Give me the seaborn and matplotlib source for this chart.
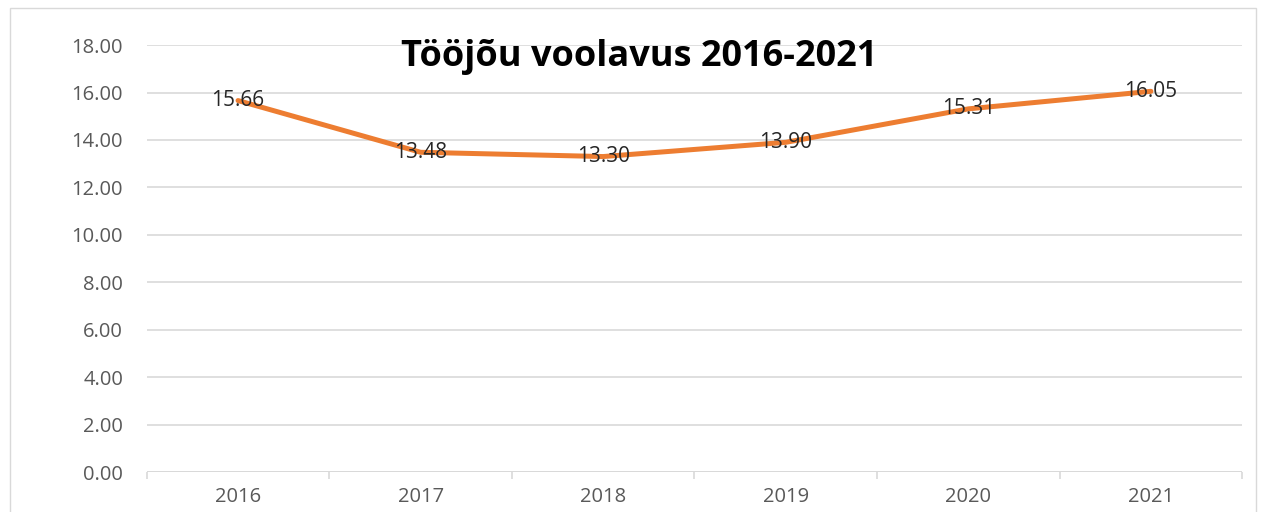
import matplotlib
matplotlib.use("Agg")
import matplotlib.pyplot as plt
import pandas as pd
import seaborn as sns
from matplotlib.patches import Rectangle

years = ["2016", "2017", "2018", "2019", "2020", "2021"]
turnover = [15.66, 13.48, 13.30, 13.90, 15.31, 16.05]
y_ticks = [0, 2, 4, 6, 8, 10, 12, 14, 16, 18]

sns.set_style("white")
plt.rcParams["font.family"] = ["Open Sans", "DejaVu Sans"]

df = pd.DataFrame({"year": years, "value": turnover})

fig = plt.figure(figsize=(12.65, 5.12), dpi=100)
ax = fig.add_axes([0.116, 0.078, 0.866, 0.834])

sns.lineplot(data=df, x="year", y="value", ax=ax, color="#ED7D31",
             linewidth=3.6, sort=False)

# data labels centred on the points
for i, v in enumerate(turnover):
    ax.text(i, v, f"{v:.2f}", ha="center", va="center", fontsize=15,
            color="#262626")

ax.set_ylim(0, 18)
ax.set_xlim(-0.5, 5.5)
ax.set_yticks(y_ticks)
ax.set_yticklabels([f"{t:.2f}" for t in y_ticks])
ax.set_xticks(range(len(years)), minor=False)
ax.set_xticks([i + 0.5 for i in range(-1, len(years))], minor=True)
ax.yaxis.grid(True, color="#D9D9D9", linewidth=1.2)
ax.set_axisbelow(True)
for sp in ax.spines.values():
    sp.set_visible(False)
ax.axhline(0, color="#D9D9D9", linewidth=1.4)
ax.tick_params(axis="both", which="major", length=0, labelsize=14.5, labelcolor="#595959")
ax.tick_params(axis="x", which="minor", bottom=True, length=5, color="#D9D9D9", width=1.2)
ax.tick_params(axis="y", pad=17)
ax.tick_params(axis="x", which="major", pad=11)
ax.set_xlabel("")
ax.set_ylabel("")

fig.text(0.505, 0.888, "Tööjõu voolavus 2016-2021", ha="center", va="center",
         fontsize=26, fontweight="bold", color="#000000")

fig.patches.append(Rectangle((0.008, -0.05), 0.985, 1.035, transform=fig.transFigure,
                             fill=False, edgecolor="#D9D9D9", linewidth=1))

fig.savefig("out.png", dpi=100)
